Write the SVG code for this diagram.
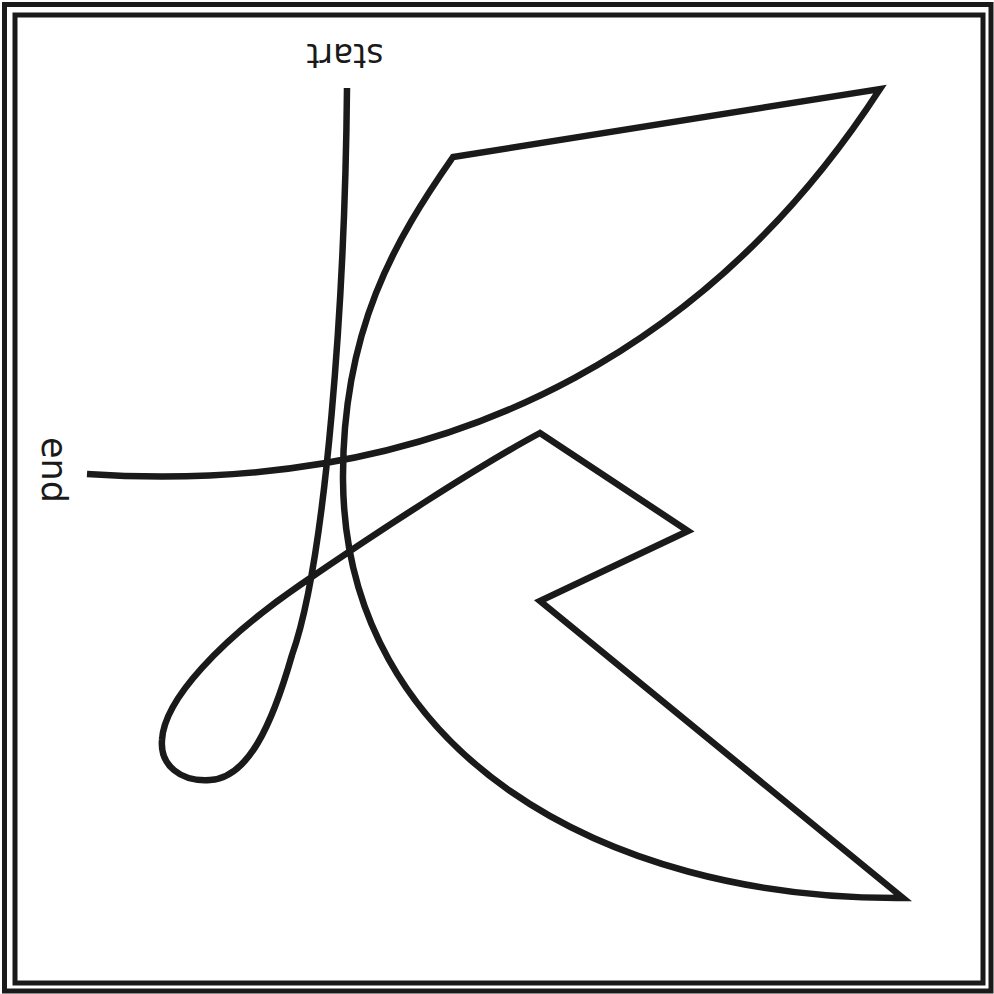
<svg xmlns="http://www.w3.org/2000/svg" width="994" height="994" viewBox="0 0 994 994">
  <style>
    .frame { fill: none; stroke: #1a1a1a; stroke-width: 5; }
    .curve { fill: none; stroke: #1a1a1a; stroke-width: 6.5; stroke-linejoin: miter; stroke-miterlimit: 20; stroke-linecap: butt; }
    .label { font-family: "DejaVu Sans", "Liberation Sans", sans-serif; fill: #1a1a1a; }
  </style>
  <rect width="994" height="994" fill="#ffffff"/>
  <g id="frame">
    <rect class="frame" x="4.5" y="4.5" width="986.5" height="986.5"/>
    <rect class="frame" x="15" y="15" width="968" height="968"/>
  </g>
  <g id="connectors">
    <path class="curve" d="M347,88 C345,300 326,560 292,655 C272,725 248,778 210,780 C180,782 160,765 162,740 C164,700 220,640 300,585 S480,465 540,433 L688,531 L540,601 L903,898 C600,900 345,750 343,480 C342,330 395,240 453,157 L880,89 C730,320 480,500 87,474"/>
  </g>
  <g id="label-start">
    <text class="label" font-size="33" text-anchor="middle" transform="translate(345,44) rotate(180)">start</text>
  </g>
  <g id="label-end">
    <text class="label" font-size="35" transform="translate(42,437) rotate(90)">end</text>
  </g>
</svg>
